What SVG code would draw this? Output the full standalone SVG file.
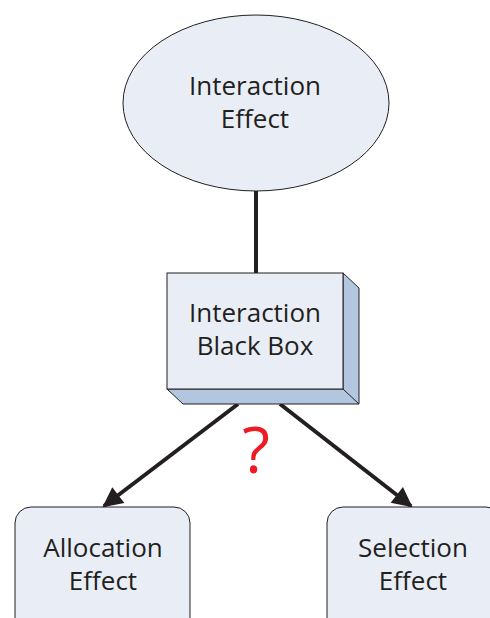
<svg xmlns="http://www.w3.org/2000/svg" width="490" height="618" viewBox="0 0 490 618">
<style>
.lt{fill:#e9eef6;stroke:#231f20;stroke-width:1}
.sd{fill:#b3c6e0;stroke:#231f20;stroke-width:1}
.t{font-family:"Open Sans","Liberation Sans",sans-serif;font-size:26px;fill:#231f20;text-anchor:middle}
.c{stroke:#231f20;stroke-width:4;fill:none}
</style>
<defs>
<marker id="ah" viewBox="0 0 10 10" refX="9" refY="5" markerWidth="6" markerHeight="5" markerUnits="strokeWidth" orient="auto">
<path d="M0,0 L10,5 L0,10 z" fill="#231f20"/>
</marker>
</defs>
<rect width="490" height="618" fill="#fff"/>
<g id="connectors">
<line class="c" x1="256" y1="191" x2="256" y2="273"/>
<line class="c" x1="238" y1="404" x2="104" y2="506" marker-end="url(#ah)"/>
<line class="c" x1="280" y1="404" x2="411" y2="506" marker-end="url(#ah)"/>
</g>
<g id="interaction-effect">
<ellipse class="lt" cx="256" cy="103" rx="133" ry="88"/>
<text class="t" x="255" y="95">Interaction</text>
<text class="t" x="255" y="128">Effect</text>
</g>
<g id="black-box">
<polygon class="sd" points="343,273 359,288 359,404 183,404 167,389 343,389"/>
<line x1="343" y1="389" x2="359" y2="404" stroke="#231f20" stroke-width="1"/>
<rect class="lt" x="167" y="273" width="176" height="116"/>
<text class="t" x="255" y="322">Interaction</text>
<text class="t" x="255" y="355">Black Box</text>
</g>
<g id="question">
<text x="256" y="473" font-family="'Open Sans','Liberation Sans',sans-serif" font-size="64" fill="#ed1c24" text-anchor="middle">?</text>
</g>
<g id="allocation-effect">
<rect class="lt" x="15" y="507" width="175" height="130" rx="16"/>
<text class="t" x="103" y="557">Allocation</text>
<text class="t" x="103" y="590">Effect</text>
</g>
<g id="selection-effect">
<rect class="lt" x="327" y="507" width="175" height="130" rx="16"/>
<text class="t" x="413" y="557">Selection</text>
<text class="t" x="413" y="590">Effect</text>
</g>
</svg>
